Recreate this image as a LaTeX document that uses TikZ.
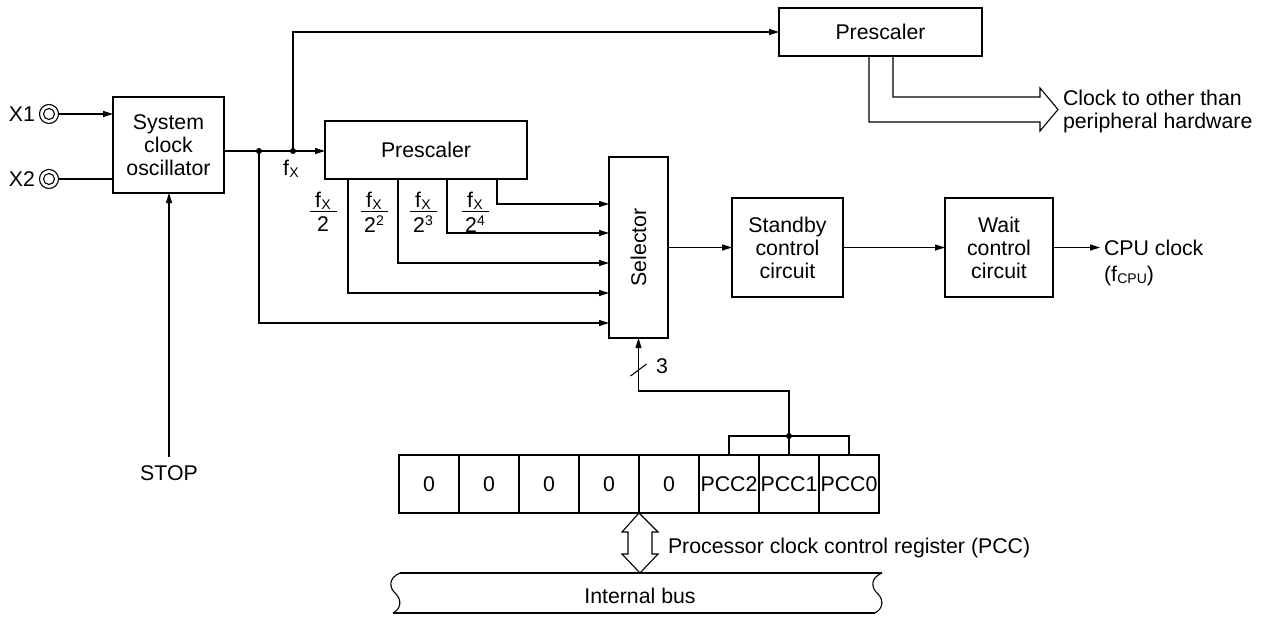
\documentclass[tikz,border=0pt]{standalone}
\usepackage{fontspec}
\setmainfont{Liberation Sans}
\usetikzlibrary{arrows.meta}
\newcommand\fxs{f\kern0.3pt\raisebox{-2pt}{\fontsize{14}{14}\selectfont X}}
\newcommand\fcpu{f\kern0.3pt\raisebox{-2pt}{\fontsize{14}{14}\selectfont CPU}}
\newcommand\sqs[1]{2\raisebox{7pt}{\fontsize{14}{14}\selectfont #1}}
\begin{document}
\begin{tikzpicture}[x=1pt,y=-1pt,
  font=\fontsize{21.3}{23}\selectfont,
  blk/.style={draw, line width=2.8pt, inner sep=0pt, outer sep=0pt, align=center},
  wire/.style={line width=1.1pt},
  arr/.style={wire, -{Triangle[length=10pt,width=6pt]}},
  lbl/.style={inner sep=0pt, outer sep=0pt},
  cell/.style={draw, line width=1.1pt, minimum width=60pt, minimum height=58pt, inner sep=0pt, outer sep=0pt},
  dot/.style={circle, fill, inner sep=0pt, minimum size=6pt}]
\useasboundingbox (0,0) rectangle (1261,616);

% blocks
\node[blk, minimum width=111pt, minimum height=96pt] (osc) at (168.5,145) {System\\clock\\oscillator};
\node[blk, minimum width=202pt, minimum height=58pt] (pre1) at (426,150) {Prescaler};
\node[blk, minimum width=203pt, minimum height=48pt] (pre2) at (880.5,32) {Prescaler};
\node[blk, minimum width=59pt, minimum height=181pt] (sel) at (638.5,247.5) {\rotatebox{90}{Selector}};
\node[blk, minimum width=111pt, minimum height=99pt] (stby) at (787.5,247.5) {Standby\\control\\circuit};
\node[blk, minimum width=108pt, minimum height=99pt] (wait) at (999,247.5) {Wait\\control\\circuit};

% inputs X1, X2
\node[lbl] (x1) at (22,114) {X1};
\node[circle, draw, wire, minimum size=19pt, inner sep=0pt, outer sep=0pt] (c1) at (49,114) {};
\node[circle, draw, wire, minimum size=11pt, inner sep=0pt, outer sep=0pt] (c1i) at (c1) {};
\draw[arr] (c1.east) -- (c1.east -| osc.west);
\node[lbl] (x2) at (22,179) {X2};
\node[circle, draw, wire, minimum size=19pt, inner sep=0pt, outer sep=0pt] (c2) at (49,179) {};
\node[circle, draw, wire, minimum size=11pt, inner sep=0pt, outer sep=0pt] (c2i) at (c2) {};
\draw[wire] (c2.east) -- (c2.east -| osc.west);

% STOP
\node[lbl] (stop) at (169,473) {STOP};
\coordinate (stopc) at (169,457);
\draw[arr] (stopc) -- (stopc |- osc.south);

% oscillator output
\coordinate (j1) at (259,151);
\coordinate (j2) at (293,151);
\draw[arr] (osc.east |- j1) -- (pre1.west |- j1);
\node[dot] (d1) at (j1) {};
\node[dot] (d2) at (j2) {};
\node[lbl] (fxl) at (291,169) {\fxs};
\draw[arr] (j2) |- (pre2.west);
\draw[arr] (j1) |- (sel.west |- 0,323);

% prescaler taps
\foreach \x/\y in {348/293, 398/263, 447/233, 497/204}
  \draw[arr] (pre1.south -| \x,0) |- (sel.west |- 0,\y);

% fractions
\foreach \n/\x/\d in {a/323/2, b/374/\sqs{2}, c/423/\sqs{3}, d/475/\sqs{4}}{
  \node[lbl] (num\n) at (\x,201) {\fxs};
  \node[lbl] (den\n) at (\x,224) {\d};
  \draw[line width=0.9pt] (\x-13.5,211) -- (\x+13.5,211);
}

% main chain
\draw[arr] (sel.east) -- (stby.west);
\draw[arr] (stby.east) -- (wait.west);
\coordinate (cpu) at (1100,247.5);
\draw[arr] (wait.east) -- (cpu);
\node[lbl, anchor=west] (cpul) at (1104,247.5) {CPU clock};
\node[lbl, anchor=west] (fcpul) at (1104,276) {(\fcpu)};

% top prescaler outputs (hollow arrow)
\draw[wire, line join=miter] (pre2.south -| 869,0) -- (869,122) -- (1040,122) -- (1040,131)
  -- (1058,109.5) -- (1040,88) -- (1040,97) -- (893,97) -- (pre2.south -| 893,0);
\node[lbl, anchor=west, align=left] (clk) at (1063,111) {Clock to other than\\peripheral hardware};

% register
\foreach \i/\t in {0/0,1/0,2/0,3/0,4/0,5/PCC2,6/PCC1,7/PCC0}
  \node[cell] (r\i) at (429+60*\i,484) {\t};
\draw[line width=2.8pt] (r0.north west) rectangle (r7.south east);
\coordinate (pd) at (789,436);
\draw[wire] (r5.north) |- (pd) -| (r7.north);
\draw[wire] (r6.north) -- (pd);
\node[dot] (d3) at (pd) {};
\draw[arr] (pd) -- (pd |- 0,391) -| (sel.south);
\draw[wire] (630.5,376) -- (646.5,364);
\node[lbl] (three) at (662,366) {3};

% bidirectional hollow arrow
\draw[wire, fill=white] (r3.south east) -- (658,532) -- (652,532) -- (652,554) -- (658,554)
  -- (640,573) -- (622,554) -- (628,554) -- (628,532) -- (622,532) -- cycle;
\node[lbl, anchor=west] (pccl) at (668,548) {Processor clock control register (PCC)};

% internal bus
\draw[wire] (400,573) -- (882,573);
\draw[wire] (393,613) -- (875,613);
\draw[wire] (400,573) .. controls (388,578) and (389,588) .. (396,594) .. controls (402,600) and (401,609) .. (393,613);
\draw[wire] (882,573) .. controls (870,578) and (871,588) .. (878,594) .. controls (884,600) and (883,609) .. (875,613);
\node[lbl] (bus) at (640,596) {Internal bus};
\end{tikzpicture}
\end{document}
